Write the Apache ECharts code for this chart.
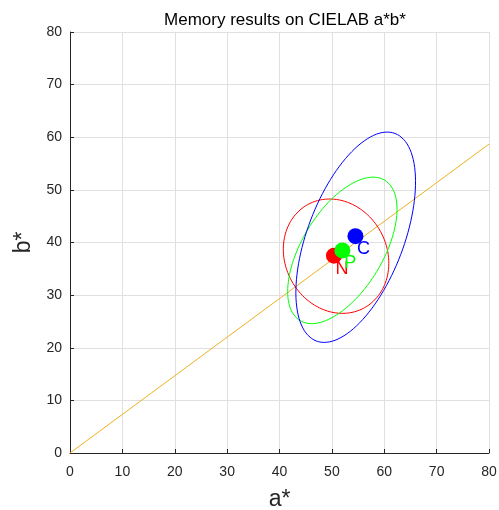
<!DOCTYPE html>
<html>
<head>
<meta charset="utf-8">
<script src="https://cdn.jsdelivr.net/npm/echarts@6/dist/echarts.min.js"></script>
<style>
  html, body { margin: 0; padding: 0; background: #fff; }
  #chart { width: 499px; height: 510px; }
</style>
</head>
<body>
<div id="chart"></div>
<script>
// memory results per condition
var labels = ['N', 'P', 'C'];
var colors = ['#ff0000', '#00ff00', '#0000ff'];
var meanA = [50.4, 52.0, 54.5];
var meanB = [37.5, 38.5, 41.2];

// confidence ellipses: centre, semi axes, angle of major axis (deg)
var ellA = [50.8, 52.0, 54.55];
var ellB = [37.4, 38.5, 41.0];
var ellMajor = [11.2, 15.6, 21.1];
var ellMinor = [9.7, 7.7, 9.2];
var ellAngle = [119, 58.7, 69.1];

// reference line through the origin
var refLine = [[0, 0], [80, 58.7]];

var font = 'Liberation Sans, Arial, Helvetica, sans-serif';
var ink = '#262626';

function ellipsePoints(i) {
    var pts = [];
    var th = ellAngle[i] * Math.PI / 180;
    for (var k = 0; k <= 120; k++) {
        var t = k / 120 * 2 * Math.PI;
        var u = ellMajor[i] * Math.cos(t);
        var v = ellMinor[i] * Math.sin(t);
        pts.push([ellA[i] + u * Math.cos(th) - v * Math.sin(th),
                  ellB[i] + u * Math.sin(th) + v * Math.cos(th)]);
    }
    return pts;
}

var chart = echarts.init(document.getElementById('chart'));

var series = [{
    type: 'line',
    data: refLine,
    showSymbol: false,
    silent: true,
    lineStyle: { color: '#EDB120', width: 1 },
    z: 1
}];

labels.forEach(function (name, i) {
    series.push({
        type: 'line',
        data: ellipsePoints(i),
        showSymbol: false,
        silent: true,
        lineStyle: { color: colors[i], width: 1 },
        z: 2
    });
});

labels.forEach(function (name, i) {
    series.push({
        type: 'scatter',
        name: name,
        data: [[meanA[i], meanB[i]]],
        symbolSize: 16,
        itemStyle: { color: colors[i], opacity: 1 },
        label: {
            show: true,
            formatter: name,
            position: 'inside',
            offset: [8, 13],
            color: colors[i],
            fontFamily: font,
            fontSize: 18
        },
        z: 3 + i
    });
});

var axisCommon = {
    type: 'value',
    min: 0,
    max: 80,
    interval: 10,
    nameLocation: 'middle',
    nameTextStyle: { fontFamily: font, fontSize: 23, color: ink },
    axisLine: { show: true, onZero: false, lineStyle: { color: ink, width: 1 } },
    axisTick: { show: true, inside: true, length: 4, lineStyle: { color: ink } },
    axisLabel: { fontFamily: font, fontSize: 14, color: ink },
    splitLine: { show: true, lineStyle: { color: '#e0e0e0', width: 1 } }
};

var option = {
    animation: false,
    backgroundColor: '#fff',
    title: {
        text: 'Memory results on CIELAB a*b*',
        left: 280,
        top: 7,
        textAlign: 'center',
        textStyle: { fontFamily: font, fontSize: 17, fontWeight: 'normal', color: '#000' }
    },
    grid: { left: 70, right: 10, top: 32, bottom: 57, containLabel: false, outerBoundsMode: 'none' },
    xAxis: Object.assign({}, axisCommon, {
        name: 'a*',
        nameGap: 35,
        axisLabel: Object.assign({}, axisCommon.axisLabel, { margin: 12 })
    }),
    yAxis: Object.assign({}, axisCommon, {
        name: 'b*',
        nameGap: 34,
        nameRotate: 90,
        axisLabel: Object.assign({}, axisCommon.axisLabel, { margin: 8 })
    }),
    series: series
};

chart.setOption(option);
</script>
</body>
</html>
